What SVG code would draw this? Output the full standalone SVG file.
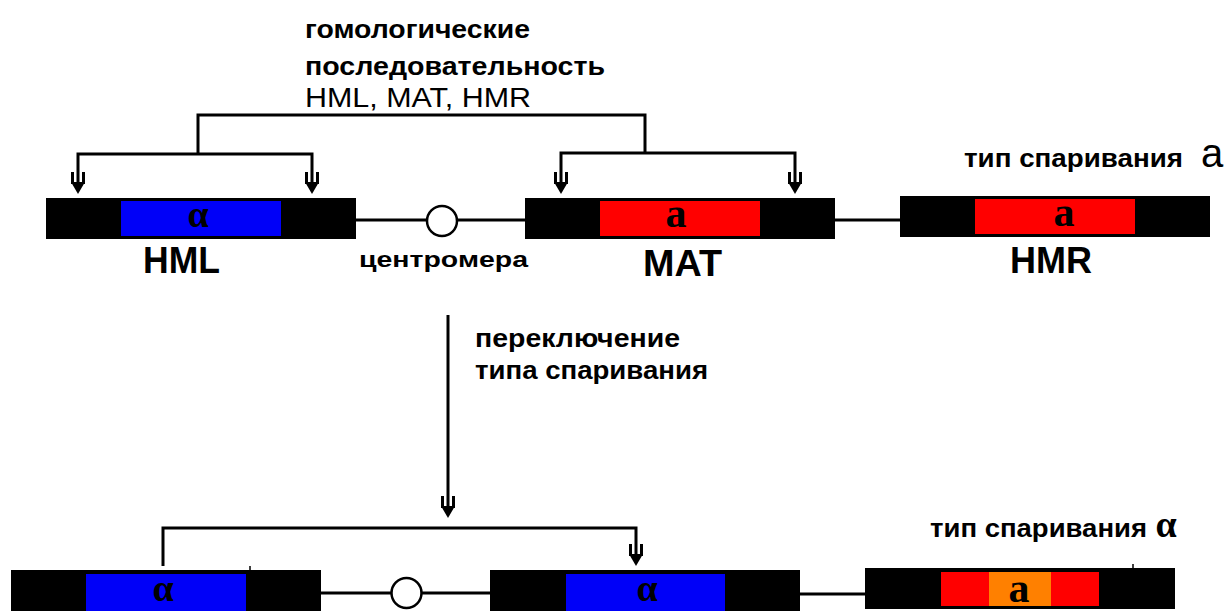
<svg xmlns="http://www.w3.org/2000/svg" xmlns:xlink="http://www.w3.org/1999/xlink" width="1225" height="611" viewBox="0 0 1225 611">
<style>
.bar{fill:#000}
.blue{fill:#0000F8}
.red{fill:#FF0000}
.orange{fill:#FF8000}
.ln{stroke:#000;stroke-width:3;fill:none}
.cen{fill:#fff;stroke:#000;stroke-width:2.5}
.ru{font-family:"Liberation Sans",Arial,sans-serif;font-weight:bold;font-size:26px;fill:#000}
.hdr{font-family:"Liberation Sans",Arial,sans-serif;font-size:27px;fill:#000}
.lbl{font-family:"Liberation Sans",Arial,sans-serif;font-weight:bold;font-size:36px;fill:#000}
.greek{font-family:"Liberation Serif","DejaVu Serif",serif;font-weight:bold;font-size:38px;fill:#000;text-anchor:middle}
.la{font-family:"Liberation Serif","DejaVu Serif",serif;font-weight:bold;font-size:42px;fill:#000;text-anchor:middle}
.big{font-family:"Liberation Sans",Arial,sans-serif;font-size:40px;fill:#000}
</style>
<defs>
<g id="ah">
<rect x="-7" y="0" width="3" height="12"/>
<rect x="4" y="0" width="3" height="12"/>
<polygon points="-7,10 7,10 0,22"/>
</g>
</defs>

<g id="connectors">
<path class="ln" d="M198,153 V115 H645 V153"/>
<path class="ln" d="M78,190 V154 H312 V190"/>
<path class="ln" d="M561,190 V153 H795 V190"/>
<use xlink:href="#ah" x="78" y="172"/>
<use xlink:href="#ah" x="312" y="172"/>
<use xlink:href="#ah" x="561" y="172"/>
<use xlink:href="#ah" x="795" y="172"/>
<path class="ln" d="M448,315 V512"/>
<use xlink:href="#ah" x="448" y="496"/>
<path class="ln" d="M163,566 V528 H636 V560"/>
<use xlink:href="#ah" x="636" y="544"/>
<path class="ln" d="M356,220 H525"/>
<path class="ln" d="M835,220 H900"/>
<path class="ln" d="M321,593 H490"/>
<path class="ln" d="M799,594 H865"/>
<path stroke="#000" stroke-width="1.5" d="M250,566 V570 M1133,564 V568"/>
</g>

<g id="header-text">
<text class="ru" x="305" y="38" textLength="225" lengthAdjust="spacingAndGlyphs">гомологические</text>
<text class="ru" x="305" y="75" textLength="300" lengthAdjust="spacingAndGlyphs">последовательность</text>
<text class="hdr" x="305" y="107" textLength="226" lengthAdjust="spacingAndGlyphs">HML, MAT, HMR</text>
</g>

<g id="hml-top">
<rect class="bar" x="46" y="198" width="310" height="41"/>
<rect class="blue" x="121" y="201" width="160" height="35"/>
<text class="greek" x="198" y="227">α</text>
<text class="lbl" x="143" y="273" textLength="77" lengthAdjust="spacingAndGlyphs">HML</text>
</g>

<g id="centromere-top">
<circle class="cen" cx="442" cy="221" r="15"/>
<text class="ru" x="359" y="267" textLength="169" lengthAdjust="spacingAndGlyphs" style="font-size:22px">центромера</text>
</g>

<g id="mat-top">
<rect class="bar" x="525" y="198" width="310" height="41"/>
<rect class="red" x="600" y="201" width="160" height="35"/>
<text class="la" x="676" y="227">a</text>
<text class="lbl" x="643" y="276" textLength="79" lengthAdjust="spacingAndGlyphs">MAT</text>
</g>

<g id="hmr-top">
<rect class="bar" x="900" y="196" width="310" height="41"/>
<rect class="red" x="975" y="199" width="160" height="35"/>
<text class="la" x="1064" y="226">a</text>
<text class="lbl" x="1010" y="273" textLength="82" lengthAdjust="spacingAndGlyphs">HMR</text>
<text class="ru" x="964" y="167" textLength="219" lengthAdjust="spacingAndGlyphs">тип спаривания</text>
<text class="big" x="1201" y="167">a</text>
</g>

<g id="switch-label">
<text class="ru" x="475" y="347" textLength="205" lengthAdjust="spacingAndGlyphs">переключение</text>
<text class="ru" x="475" y="379" textLength="233" lengthAdjust="spacingAndGlyphs">типа спаривания</text>
</g>

<g id="hml-bottom">
<rect class="bar" x="11" y="570" width="310" height="45"/>
<rect class="blue" x="86" y="574" width="160" height="40"/>
<text class="greek" x="163" y="601">α</text>
</g>

<g id="centromere-bottom">
<circle class="cen" cx="406.5" cy="593" r="15"/>
</g>

<g id="mat-bottom">
<rect class="bar" x="490" y="570" width="310" height="45"/>
<rect class="blue" x="566" y="574" width="159" height="40"/>
<text class="greek" x="647" y="601">α</text>
</g>

<g id="hmr-bottom">
<rect class="bar" x="865" y="568" width="310" height="41"/>
<rect class="red" x="941" y="572" width="158" height="34"/>
<rect class="orange" x="989" y="572" width="62" height="34"/>
<text class="la" x="1019" y="602">a</text>
<text class="ru" x="930" y="537" textLength="217" lengthAdjust="spacingAndGlyphs">тип спаривания</text>
<text class="greek" x="1166" y="537">α</text>
</g>
</svg>
